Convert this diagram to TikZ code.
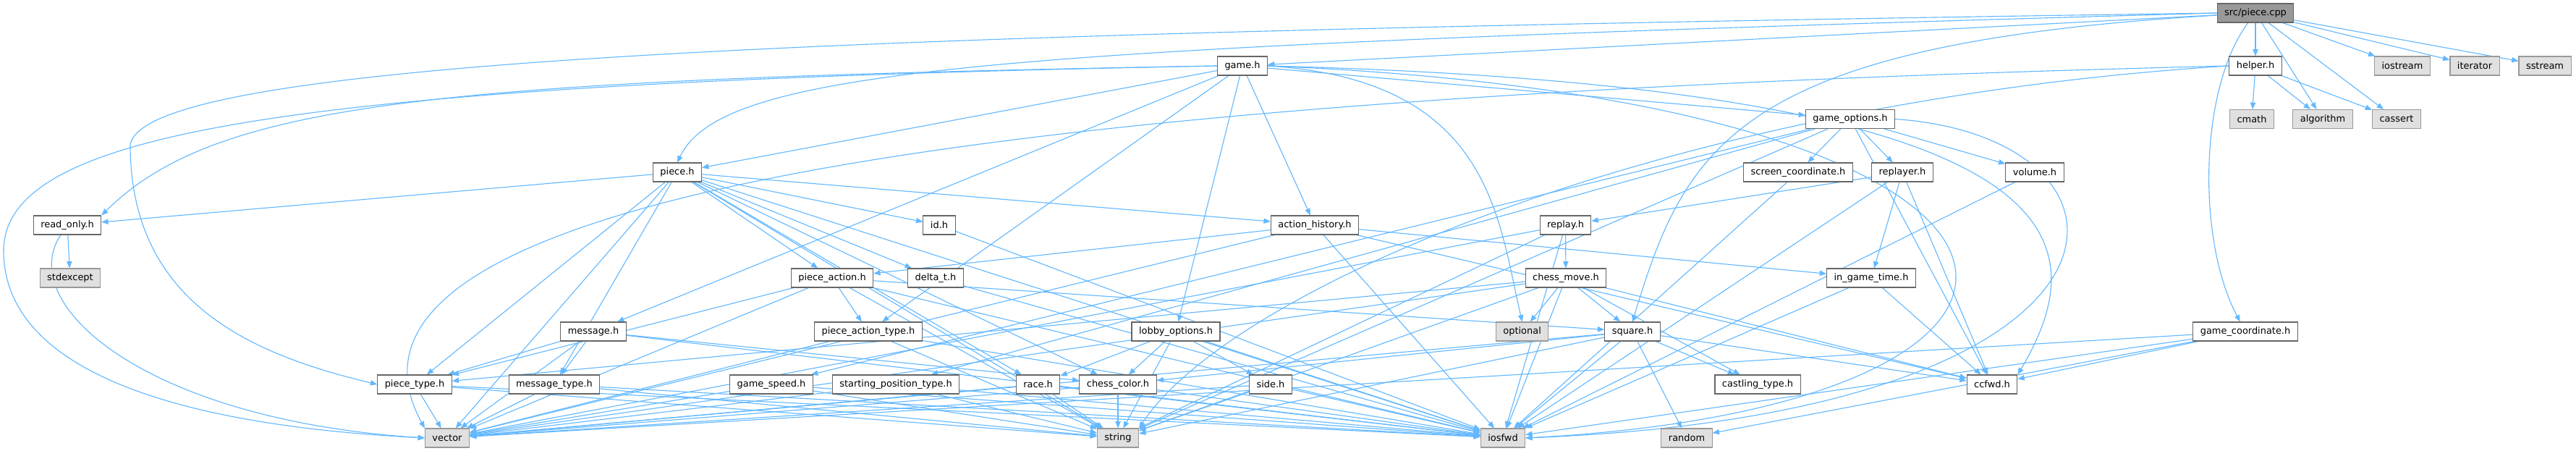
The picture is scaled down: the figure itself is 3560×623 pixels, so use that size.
\documentclass[tikz,border=0pt]{standalone}
\usepackage{fontspec}
\setmainfont{DejaVu Sans}
\usepackage{tikz}
\usetikzlibrary{arrows.meta,backgrounds}
\definecolor{edgeblue}{HTML}{63B8FF}
\definecolor{boxline}{HTML}{666666}
\definecolor{extline}{HTML}{999999}
\definecolor{extfill}{HTML}{E0E0E0}
\definecolor{mainfill}{HTML}{999999}
\begin{document}
\begin{tikzpicture}[x=0.75pt,y=-0.75pt,>={Triangle[length=7pt,width=5.5pt]},
  every node/.style={font=\fontsize{9.7}{11.6}\selectfont},
  hdr/.style={draw=boxline,fill=white,line width=.8pt,inner xsep=7.5pt,inner ysep=0pt,minimum height=19.5pt},
  sysbox/.style={hdr,draw=extline,fill=extfill},
  srcbox/.style={hdr,fill=mainfill},
  dep/.style={->,draw=edgeblue,line width=.85pt}]
\useasboundingbox (0,0) rectangle (3560,623);
% row 0 and 1
\node[srcbox] (cpp) at (3117,18) {src/piece.cpp};
\node[hdr] (game) at (1717,91) {game.h};
\node[hdr] (helper) at (3117,91) {helper.h};
\node[sysbox] (iostream) at (3320,91) {iostream};
\node[sysbox] (iterator) at (3420,91) {iterator};
\node[sysbox] (sstream) at (3517,91) {sstream};
% row 2 and 3
\node[hdr] (gopt) at (2557,164.5) {game\_options.h};
\node[sysbox] (cmath) at (3112,164.5) {cmath};
\node[sysbox] (algorithm) at (3210,164.5) {algorithm};
\node[sysbox] (cassert) at (3312,164.5) {cassert};
\node[hdr] (piece) at (936,238) {piece.h};
\node[hdr] (scoord) at (2485,238) {screen\_coordinate.h};
\node[hdr] (replayer) at (2629,238) {replayer.h};
\node[hdr] (volume) at (2812,238) {volume.h};
% row 4 and 5
\node[hdr] (readonly) at (93,311) {read\_only.h};
\node[hdr] (id) at (1298,311) {id.h};
\node[hdr] (ahist) at (1817,311) {action\_history.h};
\node[hdr] (replay) at (2163.5,311) {replay.h};
\node[sysbox] (stdexcept) at (97,384) {stdexcept};
\node[hdr] (paction) at (1150,384) {piece\_action.h};
\node[hdr] (deltat) at (1293,384) {delta\_t.h};
\node[hdr] (cmove) at (2164,384) {chess\_move.h};
\node[hdr] (igtime) at (2586,384) {in\_game\_time.h};
% row 6
\node[hdr] (message) at (820,458) {message.h};
\node[hdr] (patype) at (1200,458) {piece\_action\_type.h};
\node[hdr] (lobby) at (1625,458) {lobby\_options.h};
\node[sysbox] (optional) at (2103.6,458) {optional};
\node[hdr] (square) at (2256,458) {square.h};
\node[hdr] (gcoord) at (3103,458) {game\_coordinate.h};
% row 7
\node[hdr] (ptype) at (573,531) {piece\_type.h};
\node[hdr] (mtype) at (766,531) {message\_type.h};
\node[hdr] (gspeed) at (1066,531) {game\_speed.h};
\node[hdr] (spos) at (1238,531) {starting\_position\_type.h};
\node[hdr] (race) at (1434.6,531) {race.h};
\node[hdr] (color) at (1545,531) {chess\_color.h};
\node[hdr] (side) at (1756,531) {side.h};
\node[hdr] (castling) at (2429,531) {castling\_type.h};
\node[hdr] (ccfwd) at (2753,531) {ccfwd.h};
% row 8
\node[sysbox] (vector) at (618,605) {vector};
\node[sysbox] (string) at (1545,605) {string};
\node[sysbox] (iosfwd) at (2077,605) {iosfwd};
\node[sysbox] (random) at (2331,605) {random};
\begin{pgfonlayer}{background}
% straight includes
\foreach \u/\v in {cpp/game,cpp/helper,cpp/algorithm,cpp/cassert,cpp/iostream,cpp/iterator,cpp/sstream,
  helper/cmath,helper/algorithm,helper/cassert,
  game/piece,game/message,game/patype,game/lobby,game/ahist,game/gopt,
  gopt/scoord,gopt/replayer,gopt/volume,gopt/gspeed,gopt/spos,gopt/ccfwd,gopt/string,
  scoord/iosfwd,replayer/replay,replayer/igtime,replayer/ccfwd,replayer/iosfwd,volume/iosfwd,
  replay/cmove,replay/vector,replay/string,replay/iosfwd,
  ahist/paction,ahist/igtime,ahist/ccfwd,ahist/iosfwd,ahist/vector,
  piece/ahist,piece/id,piece/deltat,piece/paction,piece/ptype,piece/mtype,piece/readonly,piece/vector,piece/color,piece/race,piece/iosfwd,piece/string,
  id/iosfwd,deltat/iosfwd,
  paction/patype,paction/square,paction/ptype,paction/vector,paction/iosfwd,paction/string,
  cmove/optional,cmove/square,cmove/castling,cmove/ptype,cmove/vector,cmove/string,cmove/iosfwd,cmove/ccfwd,
  igtime/ccfwd,igtime/iosfwd,
  message/mtype,message/ptype,message/vector,message/color,message/iosfwd,
  patype/vector,patype/string,patype/iosfwd,
  lobby/race,lobby/color,lobby/side,lobby/string,lobby/iosfwd,
  square/castling,square/random,square/iosfwd,square/color,square/string,square/vector,square/ccfwd,
  gcoord/ccfwd,gcoord/random,gcoord/iosfwd,gcoord/vector,
  ptype/vector,ptype/string,ptype/iosfwd,mtype/vector,mtype/string,mtype/iosfwd,
  gspeed/vector,gspeed/string,gspeed/iosfwd,spos/vector,spos/string,spos/iosfwd,
  race/vector,race/string,race/iosfwd,color/vector,color/string,color/iosfwd,
  side/vector,side/string,side/iosfwd,readonly/stdexcept}{\draw[dep] (\u)--(\v);}
% routed includes
\draw[dep] (cpp.west) .. controls (1200,45) and (200,80) .. (180,200) .. controls (180,420) and (350,490) .. (ptype.west);
\draw[dep] (cpp.west) .. controls (1400,65) and (1000,90) .. (piece.north);
\draw[dep] (cpp) .. controls (2400,60) and (2330,200) .. (square.north);
\draw[dep] (cpp) .. controls (3040,120) and (3035,330) .. (gcoord);
\draw[dep] (helper.west) .. controls (1500,130) and (400,250) .. (vector.north west);
\draw[dep] (helper.west) .. controls (2300,140) and (1700,400) .. (string.north east);
\draw[dep] (game.west) .. controls (600,110) and (300,140) .. (readonly.north east);
\draw[dep] (game.west) .. controls (400,115) and (0,180) .. (5,350) .. controls (10,560) and (400,595) .. (vector.west);
\draw[dep] (game.east) .. controls (2060,110) and (2070,300) .. (optional.north);
\draw[dep] (game.east) .. controls (2880,120) and (2900,330) .. (ccfwd.north east);
\draw[dep] (game.east) .. controls (2940,140) and (2960,560) .. (iosfwd.east);
\draw[dep] (gopt.east) .. controls (2990,190) and (3000,570) .. (iosfwd.east);
\draw[dep] (readonly) .. controls (20,420) and (200,580) .. (vector.west);
\end{pgfonlayer}
\end{tikzpicture}
\end{document}
